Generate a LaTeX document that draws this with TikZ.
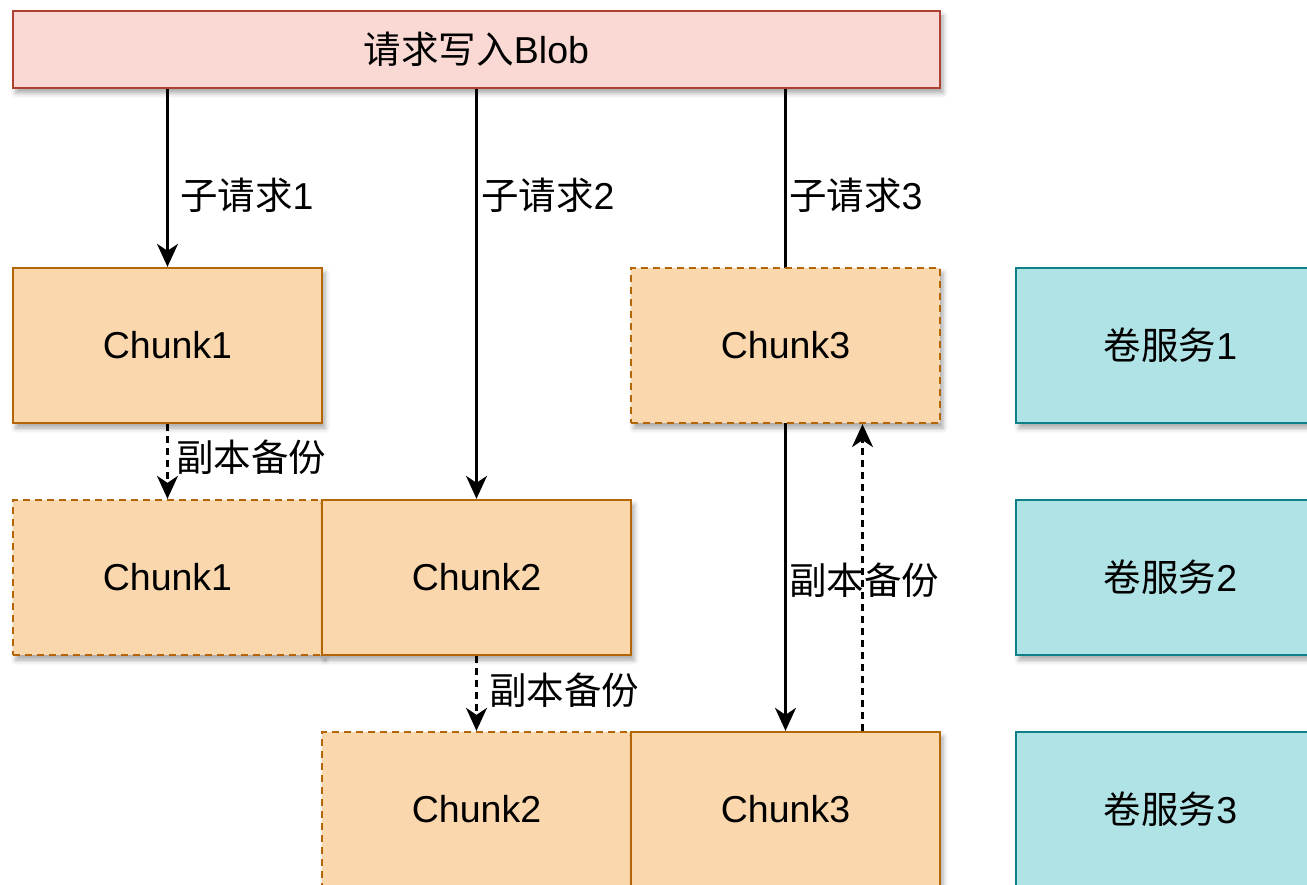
\documentclass[tikz,border=0pt]{standalone}
\usepackage{fontspec}
\setmainfont{Liberation Sans}
\newfontfamily\cjk{Noto Sans CJK SC}
\usetikzlibrary{arrows.meta,shadows.blur,calc}
\pgfdeclarelayer{bg}
\pgfsetlayers{bg,main}
\definecolor{redfill}{HTML}{FAD9D5}
\definecolor{redline}{HTML}{AE4132}
\definecolor{orfill}{HTML}{FAD7AC}
\definecolor{orline}{HTML}{B46504}
\definecolor{tealfill}{HTML}{B0E3E6}
\definecolor{tealline}{HTML}{0E8088}
\tikzset{
  txt/.style={font=\fontsize{37.5}{44}\selectfont, text=black},
  softshadow/.style={blur shadow={shadow xshift=3pt, shadow yshift=-5pt,
      shadow blur radius=5pt, shadow opacity=35}},
  box/.style={txt, draw, line width=2.3pt, minimum width=309pt,
      minimum height=155pt, inner sep=0pt, softshadow},
  chunk/.style={box, fill=orfill, draw=orline},
  replica/.style={chunk, dash pattern=on 7pt off 5pt},
  volume/.style={box, fill=tealfill, draw=tealline},
  request/.style={txt, draw=redline, fill=redfill, line width=2.3pt,
      minimum width=927pt, minimum height=77pt, inner sep=0pt, softshadow},
  arr/.style={line width=2.2pt, -{Stealth[length=23pt 0 0,width=21pt 0 0,inset=7pt 0]}},
  dasharr/.style={arr, dash pattern=on 7pt off 5pt},
  lbl/.style={txt, inner sep=0pt, anchor=west},
}
\begin{document}
\begin{tikzpicture}[x=1pt, y=-1pt]
  \path[use as bounding box, clip] (0,0) rectangle (1307,885);

  % incoming write request
  \node[request] (req) at (476.5,49.5) {{\cjk 请求写入}Blob};

  % row 1
  \node[chunk]   (c1)  at (167.5,345.5) {Chunk1};
  \node[replica] (c3r) at (785.5,345.5) {Chunk3};
  \node[volume]  (v1)  at (1170.5,345.5) {{\cjk 卷服务}1};

  % row 2
  \node[replica] (c1r) at (167.5,577.5) {Chunk1};
  \node[chunk]   (c2)  at (476.5,577.5) {Chunk2};
  \node[volume]  (v2)  at (1170.5,577.5) {{\cjk 卷服务}2};

  % row 3
  \node[replica] (c2r) at (476.5,809.5) {Chunk2};
  \node[chunk]   (c3)  at (785.5,809.5) {Chunk3};
  \node[volume]  (v3)  at (1170.5,809.5) {{\cjk 卷服务}3};

  % sub-requests
  \draw[arr] (c1 |- req.south) -- (c1.north);
  \draw[arr] (c2 |- req.south) -- (c2.north);
  \begin{pgfonlayer}{bg}
    \draw[arr] (c3 |- req.south) -- (c3.north);
  \end{pgfonlayer}

  % replication
  \draw[dasharr] (c1.south) -- (c1r.north);
  \draw[dasharr] (c2.south) -- (c2r.north);
  \coordinate (upstart) at ([xshift=77pt]c3.north);
  \coordinate (upend) at ([xshift=77pt]c3r.south);
  \draw[dasharr] (upstart) -- (upend);

  % labels
  \node[lbl] (l1) at (180,195) {{\cjk 子请求}1};
  \node[lbl] (l2) at (481,195) {{\cjk 子请求}2};
  \node[lbl] (l3) at (789,195) {{\cjk 子请求}3};
  \node[lbl] (r1) at (176,457) {\cjk 副本备份};
  \node[lbl] (r2) at (489,690) {\cjk 副本备份};
  \node[txt, inner sep=0pt] (r3) at (864,580) {\cjk 副本备份};
\end{tikzpicture}
\end{document}
